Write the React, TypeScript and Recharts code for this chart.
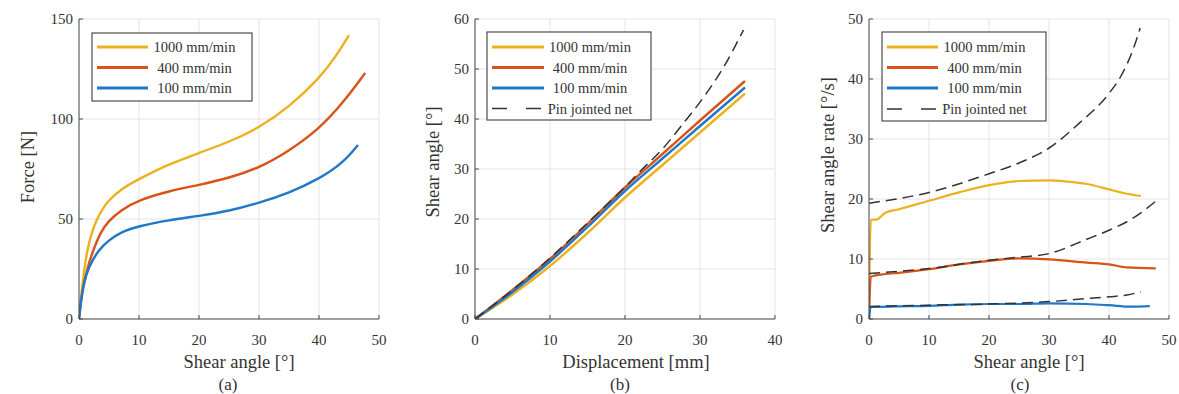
import { LineChart, Line, XAxis, YAxis, CartesianGrid } from 'recharts';

const FONT = 'Liberation Serif, DejaVu Serif, serif';
const YELLOW = '#EDB120';
const RED = '#D95319';
const BLUE = '#1f78c8';
const DASH = '#333333';
const AXIS = '#4d4d4d';
const TXT = '#333333';

const SPEEDS = ['1000 mm/min', '400 mm/min', '100 mm/min'];
const PIN_LABEL = 'Pin jointed net';

// (a) force vs shear angle
const a1000X = [0, 0.3, 0.9, 1.4, 2, 2.8, 4, 5, 7, 10, 15, 20, 25, 30, 35, 40, 43, 45];
const a1000Y = [0, 10, 26, 34.5, 42, 49, 55.5, 59.5, 65, 70, 77.5, 83, 88.5, 95.5, 106, 120, 132, 142];
const a400X = [0, 0.4, 1.4, 2.4, 3.5, 4.9, 7, 10, 15, 20, 25, 30, 35, 40, 44, 47.7];
const a400Y = [0, 12, 26, 34.5, 43, 49, 54.5, 59.5, 64, 67, 70.5, 75.5, 84, 95, 108, 123];
const a100X = [0, 0.7, 1.65, 3.2, 5, 7, 10, 15, 20, 25, 30, 35, 40, 44, 46.5];
const a100Y = [0, 18, 26, 34.5, 39.5, 43.5, 46.5, 49.5, 51.5, 54, 58, 63, 70, 78, 87];

// (b) shear angle vs displacement
const bX = [0, 5, 10, 15, 20, 25, 30, 36];
const b1000Y = [0, 4.9, 10.6, 17.2, 24.3, 30.8, 37.3, 45.1];
const b400Y = [0, 5.8, 12, 19, 26.3, 33, 39.7, 47.6];
const b100Y = [0, 5.4, 11.5, 18.4, 25.6, 32.1, 38.6, 46.3];
const bPinX = [0, 5, 10, 15, 20, 22, 25, 27.6, 30.7, 33, 35.8];
const bPinY = [0, 5.8, 12.2, 19.2, 26.4, 29.5, 34, 38.8, 44.8, 50, 57.8];

// (c) shear angle rate vs shear angle
const c1000X = [0, 0.3, 1.3, 2.7, 5, 10, 15, 20, 25, 30, 33, 36.3, 40, 42.4, 45.3];
const c1000Y = [0, 16.5, 16.6, 17.7, 18.3, 19.7, 21.1, 22.3, 23, 23.1, 22.9, 22.5, 21.6, 21, 20.5];
const c400X = [0, 0.3, 2.7, 5, 10, 15, 20, 25, 30, 36.3, 40, 43, 47.8];
const c400Y = [0, 7.05, 7.5, 7.7, 8.3, 9.1, 9.7, 10.1, 9.95, 9.4, 9.1, 8.6, 8.45];
const c100X = [0, 0.3, 5, 10, 15, 20, 25, 30, 36.3, 40, 43.5, 46.8];
const c100Y = [0, 2.0, 2.1, 2.2, 2.4, 2.5, 2.5, 2.6, 2.5, 2.3, 2.05, 2.15];
const cPinTopX = [0, 10, 20, 25, 30, 35, 40, 42, 44, 45.2];
const cPinTopY = [19.3, 21.1, 24.2, 26, 28.5, 32.6, 37.6, 40.5, 44.9, 48.5];
const cPinMidX = [0, 10, 20, 25, 30, 36.3, 40, 43.5, 46, 48];
const cPinMidY = [7.6, 8.4, 9.8, 10.3, 10.9, 13.3, 14.8, 16.5, 18.2, 19.8];
const cPinLowX = [0, 10, 20, 30, 36.3, 40, 43, 45.3];
const cPinLowY = [2.1, 2.3, 2.5, 2.9, 3.4, 3.7, 4.0, 4.55];

const pts = (xs: number[], ys: number[]) => xs.map((x, i) => ({ x, y: ys[i] }));

type Series = { data: { x: number; y: number }[]; color: string; width: number; dashed?: boolean; curve?: 'monotone' | 'basis' };

function Panel({ plotLeft, xMax, yMax, xTicks, yTicks, series }: {
  plotLeft: number; xMax: number; yMax: number; xTicks: number[]; yTicks: number[]; series: Series[];
}) {
  const tickStyle = { fill: TXT, fontSize: 15, fontFamily: FONT };
  return (
    <div style={{ position: 'absolute', left: plotLeft - 50, top: 0 }}>
      <LineChart width={360} height={394} margin={{ top: 19, right: 10, bottom: 45, left: 0 }}>
        <CartesianGrid stroke="#e4e4e4" />
        <XAxis type="number" dataKey="x" domain={[0, xMax]} ticks={xTicks} height={30}
          tickSize={-4} tickMargin={19} stroke={AXIS} tick={tickStyle} allowDataOverflow />
        <XAxis xAxisId="top" orientation="top" type="number" domain={[0, xMax]} ticks={xTicks}
          height={0} tickSize={-4} tickFormatter={() => ''} stroke={AXIS} />
        <YAxis type="number" domain={[0, yMax]} ticks={yTicks} width={50}
          tickSize={-4} tickMargin={10} stroke={AXIS} tick={tickStyle} allowDataOverflow />
        <YAxis yAxisId="right" orientation="right" type="number" domain={[0, yMax]} ticks={yTicks}
          width={0} tickSize={-4} tickFormatter={() => ''} stroke={AXIS} />
        {series.map((s, i) => (
          <Line key={i} data={s.data} dataKey="y" type={s.curve || 'monotone'} stroke={s.color}
            strokeWidth={s.width} strokeDasharray={s.dashed ? '11 6' : undefined}
            dot={false} activeDot={false} isAnimationActive={false} />
        ))}
      </LineChart>
    </div>
  );
}

function LegendBox({ x, y, w, h, lineX1, lineX2, textX, rowYs, withPin }: {
  x: number; y: number; w: number; h: number; lineX1: number; lineX2: number; textX: number; rowYs: number[]; withPin: boolean;
}) {
  const colors = [YELLOW, RED, BLUE];
  return (
    <g>
      <rect x={x} y={y} width={w} height={h} fill="#fff" stroke={AXIS} strokeWidth={1.2} />
      {SPEEDS.map((label, i) => (
        <g key={label}>
          <line x1={lineX1} x2={lineX2} y1={rowYs[i]} y2={rowYs[i]} stroke={colors[i]} strokeWidth={3} />
          <text x={textX} y={rowYs[i]} textAnchor="middle" dominantBaseline="central"
            fontFamily={FONT} fontSize={14.5} fill={TXT}>{label}</text>
        </g>
      ))}
      {withPin && (
        <g>
          <line x1={lineX1} x2={lineX2} y1={rowYs[3]} y2={rowYs[3]} stroke={DASH} strokeWidth={1.4} strokeDasharray="15 19" />
          <text x={textX} y={rowYs[3]} textAnchor="middle" dominantBaseline="central"
            fontFamily={FONT} fontSize={14.5} fill={TXT}>{PIN_LABEL}</text>
        </g>
      )}
    </g>
  );
}

function AxisText({ x, y, text, rotate, size = 18.5 }: { x: number; y: number; text: string; rotate?: boolean; size?: number }) {
  return (
    <text x={x} y={y} textAnchor="middle" dominantBaseline="central" fontFamily={FONT} fontSize={size}
      fill={TXT} transform={rotate ? `rotate(-90 ${x} ${y})` : undefined}>{text}</text>
  );
}

export default function App() {
  return (
    <div style={{ position: 'absolute', left: 0, top: 0, width: 1179, height: 394, background: '#fff', overflow: 'hidden' }}>
      <Panel plotLeft={79} xMax={50} yMax={150} xTicks={[0, 10, 20, 30, 40, 50]} yTicks={[0, 50, 100, 150]}
        series={[
          { data: pts(a1000X, a1000Y), color: YELLOW, width: 2.4, curve: 'basis' },
          { data: pts(a400X, a400Y), color: RED, width: 2.4, curve: 'basis' },
          { data: pts(a100X, a100Y), color: BLUE, width: 2.4, curve: 'basis' },
        ]} />
      <Panel plotLeft={475} xMax={40} yMax={60} xTicks={[0, 10, 20, 30, 40]} yTicks={[0, 10, 20, 30, 40, 50, 60]}
        series={[
          { data: pts(bX, b1000Y), color: YELLOW, width: 2.4 },
          { data: pts(bX, b400Y), color: RED, width: 2.4 },
          { data: pts(bX, b100Y), color: BLUE, width: 2.4 },
          { data: pts(bPinX, bPinY), color: DASH, width: 1.5, dashed: true },
        ]} />
      <Panel plotLeft={869} xMax={50} yMax={50} xTicks={[0, 10, 20, 30, 40, 50]} yTicks={[0, 10, 20, 30, 40, 50]}
        series={[
          { data: pts(c1000X, c1000Y), color: YELLOW, width: 2.2 },
          { data: pts(c400X, c400Y), color: RED, width: 2.2 },
          { data: pts(c100X, c100Y), color: BLUE, width: 2.2 },
          { data: pts(cPinTopX, cPinTopY), color: DASH, width: 1.5, dashed: true },
          { data: pts(cPinMidX, cPinMidY), color: DASH, width: 1.5, dashed: true },
          { data: pts(cPinLowX, cPinLowY), color: DASH, width: 1.5, dashed: true },
        ]} />
      <svg width={1179} height={394} style={{ position: 'absolute', left: 0, top: 0, pointerEvents: 'none' }}>
        <LegendBox x={92} y={33} w={160} h={68} lineX1={97} lineX2={148} textX={194.5} rowYs={[47, 67.5, 88]} withPin={false} />
        <LegendBox x={487} y={32} w={164} h={88} lineX1={492} lineX2={544} textX={590} rowYs={[47, 67.5, 88, 108.5]} withPin />
        <LegendBox x={882} y={32} w={164} h={89} lineX1={887} lineX2={938} textX={984.5} rowYs={[47, 67.5, 88, 109]} withPin />

        <AxisText x={28} y={167} text="Force [N]" rotate />
        <AxisText x={239} y={362} text="Shear angle [°]" />
        <AxisText x={228} y={384} text="(a)" size={17} />

        <AxisText x={433} y={162} text="Shear angle [°]" rotate />
        <AxisText x={636} y={362} text="Displacement [mm]" />
        <AxisText x={620} y={384} text="(b)" size={17} />

        <AxisText x={828} y={155} text="Shear angle rate [°/s]" rotate />
        <AxisText x={1029} y={362} text="Shear angle [°]" />
        <AxisText x={1020} y={384} text="(c)" size={17} />
      </svg>
    </div>
  );
}
